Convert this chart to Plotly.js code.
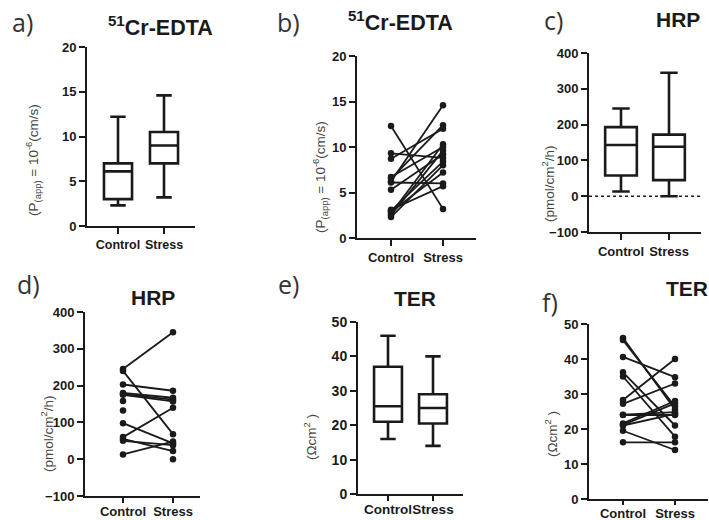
<!DOCTYPE html>
<html>
<head>
<meta charset="utf-8">
<script src="https://cdn.plot.ly/plotly-3.0.1.min.js"></script>
<style>html,body{margin:0;padding:0;background:#fff}#chart{width:709px;height:520px}</style>
</head>
<body>
<div id="chart"></div>
<script>
// ---------- data ----------
const categories = ['Control', 'Stress'];

// a) 51Cr-EDTA box statistics [Control, Stress]
const crLower  = [2.3, 3.2];
const crQ1     = [3.0, 7.0];
const crMedian = [6.1, 9.0];
const crQ3     = [7.0, 10.5];
const crUpper  = [12.2, 14.6];

// b) 51Cr-EDTA paired values
const crControl = [2.3, 2.5, 2.7, 2.9, 3.0, 3.1, 5.3, 6.1, 6.2, 6.5, 6.7, 8.7, 9.3, 12.3];
const crStress  = [8.0, 9.6, 10.3, 7.2, 8.4, 5.7, 9.2, 6.0, 14.6, 12.4, 10.0, 12.0, 8.8, 3.2];

// c) HRP box statistics
const hrpLower  = [13, 0];
const hrpQ1     = [58, 45];
const hrpMedian = [143, 138];
const hrpQ3     = [193, 172];
const hrpUpper  = [245, 345];

// d) HRP paired values (null = no partner)
const hrpControl = [245, 240, 203, 180, 177, 175, 158, 132, 98, 60, 55, 50, 13, null];
const hrpStress  = [345, 68, 186, 167, 162, 157, null, null, 43, 140, 22, 38, 48, 0];

// e) TER box statistics
const terLower  = [16, 14];
const terQ1     = [21, 20.5];
const terMedian = [25.5, 25];
const terQ3     = [37, 29];
const terUpper  = [46, 40];

// f) TER paired values
const terControl = [46.0, 45.4, 40.6, 36.2, 35.0, 28.3, 27.2, 24.1, 24.0, 21.6, 21.2, 21.0, 19.5, 16.2];
const terStress  = [25.6, 26.4, 34.8, 21.0, 17.8, 40.0, 33.0, 24.8, 24.0, 28.0, 27.3, 24.3, 14.0, 16.2];

// ---------- helpers ----------
const W = 709, H = 520;
const px = v => v / W;
const py = v => 1 - v / H;
const INK = '#1a1a1a';

function boxTrace(ax, lower, q1, med, q3, upper, width) {
  return {
    type: 'box', xaxis: 'x' + ax, yaxis: 'y' + ax,
    x: categories.map((c, i) => i),
    lowerfence: lower, q1: q1, median: med, q3: q3, upperfence: upper,
    width: width, whiskerwidth: 0.55,
    fillcolor: 'rgba(255,255,255,0)',
    line: {color: INK, width: 2.6},
    boxpoints: false, hoverinfo: 'skip', showlegend: false
  };
}
function pairTrace(ax, ctrl, str) {
  const xs = [], ys = [];
  ctrl.forEach((c, i) => {
    xs.push(0, 1, null);
    ys.push(c, str[i], null);
  });
  return {
    type: 'scatter', mode: 'lines+markers', xaxis: 'x' + ax, yaxis: 'y' + ax,
    x: xs, y: ys, connectgaps: false,
    line: {color: INK, width: 1.8},
    marker: {color: INK, size: 6.5},
    hoverinfo: 'skip', showlegend: false
  };
}
function tf(size) {
  return {family: 'Liberation Sans, Arial', size: size, color: INK, weight: 'bold'};
}
function xax(x0, x1, c0, c1, anchor, fs, tl, so) {
  const u = c1 - c0;
  return {
    domain: [px(x0), px(x1)], anchor: 'y' + anchor,
    range: [(x0 - c0) / u, (x1 - c0) / u],
    tickvals: [0, 1], ticktext: categories, tickangle: 0,
    showline: true, linecolor: INK, linewidth: 2,
    ticks: 'outside', ticklen: tl || 6, tickwidth: 2, tickcolor: INK,
    ticklabelstandoff: so || 0,
    showgrid: false, zeroline: false, fixedrange: true,
    tickfont: tf(fs || 13)
  };
}
function yax(yTop, yBot, lo, hi, dtick, anchor, fs) {
  return {
    domain: [py(yBot), py(yTop)], anchor: 'x' + anchor,
    range: [lo, hi], dtick: dtick, tick0: 0,
    showline: true, linecolor: INK, linewidth: 2,
    ticks: 'outside', ticklen: 6, tickwidth: 2, tickcolor: INK,
    showgrid: false, zeroline: false, fixedrange: true,
    tickfont: tf(fs || 13)
  };
}
function ann(text, x, y, font, opts) {
  return Object.assign({
    text: text, x: px(x), y: py(y), xref: 'paper', yref: 'paper',
    showarrow: false, xanchor: 'center', yanchor: 'middle', font: font
  }, opts || {});
}

const data = [
  boxTrace('', crLower, crQ1, crMedian, crQ3, crUpper, 0.61),
  pairTrace('2', crControl, crStress),
  boxTrace('3', hrpLower, hrpQ1, hrpMedian, hrpQ3, hrpUpper, 0.66),
  pairTrace('4', hrpControl, hrpStress),
  boxTrace('5', terLower, terQ1, terMedian, terQ3, terUpper, 0.62),
  pairTrace('6', terControl, terStress)
];
data[0].xaxis = 'x'; data[0].yaxis = 'y';

const labelFont = {family: 'Open Sans, Noto Sans', size: 25, color: '#333'};
const titleFont = {family: 'Liberation Sans, Arial', size: 21.5, color: INK, weight: 'bold'};
const titleFont2 = {family: 'Liberation Sans, Arial', size: 21, color: INK, weight: 'bold'};
const yTitleFont = {family: 'Liberation Sans, Arial', size: 13.5, color: '#444'};

const pTitle = '(P<sub>(app)</sub> = 10<sup>-6</sup>(cm/s)';
const hTitle = '(pmol/cm<sup>2</sup>/h)';
const tTitle = '(\u03A9cm<sup>2</sup> )';

const layout = {
  width: W, height: H, margin: {l: 0, r: 0, t: 0, b: 0},
  paper_bgcolor: '#fff', plot_bgcolor: 'rgba(0,0,0,0)', showlegend: false,
  xaxis:  xax(87, 195, 118, 164, '', 12.5),
  yaxis:  yax(47, 226, 0, 20, 5, ''),
  xaxis2: xax(357, 476, 391, 443, '2'),
  yaxis2: yax(56, 238, 0, 20, 5, '2'),
  xaxis3: xax(589, 701, 621, 669, '3'),
  yaxis3: yax(53, 232, -100, 400, 100, '3'),
  xaxis4: xax(85, 200, 123, 173, '4', 13, 5, -3),
  yaxis4: yax(312, 496, -100, 400, 100, '4'),
  xaxis5: xax(358, 463, 388, 433, '5', 13.5, 5, -3),
  yaxis5: yax(322, 494, 0, 50, 10, '5', 14),
  xaxis6: xax(589, 708, 623, 675, '6', 13, 4, -3),
  yaxis6: yax(324, 499, 0, 50, 10, '6'),
  shapes: [{
    type: 'line', xref: 'x3 domain', yref: 'y3', x0: 0, x1: 1, y0: 0, y1: 0,
    line: {color: INK, width: 1.5, dash: 'dot'}, layer: 'below'
  }],
  annotations: [
    ann('a)', 22, 22, labelFont),
    ann('b)', 288, 22, labelFont),
    ann('c)', 553, 20, labelFont),
    ann('d)', 28, 284, labelFont),
    ann('e)', 288, 284, labelFont),
    ann('f)', 550, 302, labelFont),
    ann('<sup>51</sup>Cr-EDTA', 160, 26, titleFont),
    ann('<sup>51</sup>Cr-EDTA', 400, 21, titleFont),
    ann('HRP', 678, 20, titleFont2),
    ann('HRP', 153, 297, titleFont2),
    ann('TER', 415, 298, titleFont2),
    ann('TER', 687, 288, titleFont2),
    ann(pTitle, 33, 160, yTitleFont, {textangle: -90}),
    ann(pTitle, 320, 177, yTitleFont, {textangle: -90}),
    ann(hTitle, 548, 184, yTitleFont, {textangle: -90}),
    ann(hTitle, 47, 433, yTitleFont, {textangle: -90}),
    ann(tTitle, 310, 437, yTitleFont, {textangle: -90}),
    ann(tTitle, 551, 434, yTitleFont, {textangle: -90})
  ]
};

Plotly.newPlot('chart', data, layout, {staticPlot: true, displayModeBar: false});
</script>
</body>
</html>
